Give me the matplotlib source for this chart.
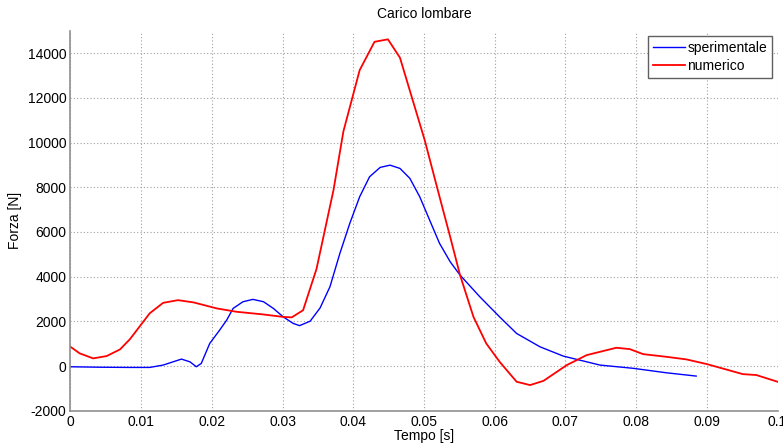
import matplotlib
matplotlib.use("Agg")
import matplotlib.pyplot as plt

plt.rcParams['font.family'] = ['Liberation Sans', 'DejaVu Sans']
plt.rcParams['axes.unicode_minus'] = False

t_sper = [0.0, 0.004, 0.0084, 0.0112, 0.0131, 0.0145, 0.0157, 0.0169, 0.0178,
          0.0185, 0.0197, 0.0211, 0.0221, 0.0230, 0.0244, 0.0258, 0.0273, 0.0287,
          0.0301, 0.0315, 0.0324, 0.0339, 0.0353, 0.0367, 0.0381, 0.0395, 0.0409,
          0.0423, 0.0438, 0.0452, 0.0466, 0.0480, 0.0494, 0.0508, 0.0522, 0.0537,
          0.0551, 0.0579, 0.0607, 0.0631, 0.0664, 0.0697, 0.0749, 0.0796, 0.0843,
          0.0885]
f_sper = [-30, -50, -60, -60, 45, 190, 313, 190, -30,
          120, 1015, 1610, 2060, 2580, 2880, 2985, 2880, 2580,
          2200, 1910, 1810, 2010, 2600, 3550, 5040, 6380, 7575,
          8470, 8890, 8990, 8845, 8400, 7575, 6530, 5490, 4670,
          4070, 3100, 2200, 1460, 864, 447, 45, -100, -300,
          -447]

t_num = [0.0, 0.0013, 0.0032, 0.0051, 0.0070, 0.0084, 0.0112, 0.0131, 0.0152,
         0.0174, 0.0207, 0.0235, 0.0273, 0.0301, 0.0313, 0.0329, 0.0348, 0.0372,
         0.0386, 0.0409, 0.0430, 0.0449, 0.0466, 0.0501, 0.0522, 0.0537, 0.0551,
         0.0570, 0.0588, 0.0607, 0.0631, 0.0650, 0.0669, 0.0702, 0.0730, 0.0772,
         0.0791, 0.0810, 0.0843, 0.0871, 0.0900, 0.0951, 0.0970, 0.1]
f_num = [864, 570, 345, 447, 745, 1200, 2360, 2830, 2950,
         2850, 2580, 2430, 2310, 2200, 2180, 2500, 4350, 7875,
         10500, 13240, 14510, 14620, 13800, 10110, 7575, 5785, 4070,
         2200, 1015, 190, -700, -850, -660, 45, 490, 820,
         760, 535, 415, 300, 90, -360, -400, -700]

xticks = [0, 0.01, 0.02, 0.03, 0.04, 0.05, 0.06, 0.07, 0.08, 0.09, 0.1]
xlabels = ['0', '0.01', '0.02', '0.03', '0.04', '0.05', '0.06', '0.07', '0.08', '0.09', '0.1']
yticks = [-2000, 0, 2000, 4000, 6000, 8000, 10000, 12000, 14000]

fig = plt.figure(figsize=(7.83, 4.47), dpi=100)
ax = fig.add_axes([0.090, 0.081, 0.903, 0.850])

ax.plot(t_sper, f_sper, color='#0000ff', lw=1.0, label='sperimentale')
ax.plot(t_num, f_num, color='#ff0000', lw=1.3, label='numerico')

ax.set_xlim(0, 0.1)
ax.set_ylim(-2000, 15000)
ax.set_xticks(xticks)
ax.set_xticklabels(xlabels)
ax.set_yticks(yticks)
ax.tick_params(labelsize=10, length=0, pad=3)

ax.grid(True, linestyle=(0, (1, 2)), color='#a0a0a0', lw=0.8)
for s in ['top', 'right']:
    ax.spines[s].set_visible(False)
for s in ['left', 'bottom']:
    ax.spines[s].set_color('#909090')
    ax.spines[s].set_linewidth(1.2)

ax.set_title('Carico lombare', fontsize=10, pad=9)
ax.set_xlabel('Tempo [s]', fontsize=10, labelpad=0)
ax.set_ylabel('Forza [N]', fontsize=10, labelpad=4)

leg = ax.legend(loc='upper right', fontsize=10, fancybox=False, framealpha=1,
                edgecolor='#606060', borderaxespad=0.4, handlelength=2.3,
                handletextpad=0.2, borderpad=0.35, labelspacing=0.25)
leg.get_frame().set_linewidth(1.0)

fig.savefig('out.png', dpi=100)
